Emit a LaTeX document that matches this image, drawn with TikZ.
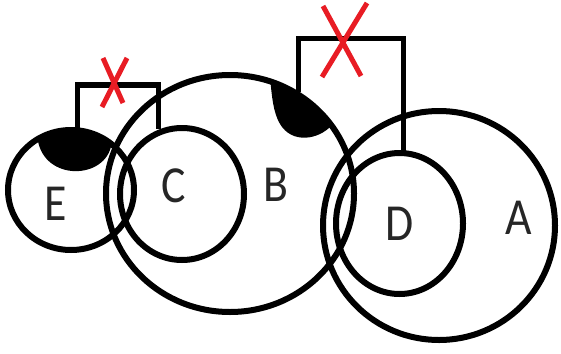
\documentclass[tikz,border=0pt]{standalone}
\usepackage{fontspec}
\setmainfont{Carlito}
\begin{document}
\begin{tikzpicture}[x=1pt,y=-1pt,
  ring/.style={draw=black,line width=6pt},
  link/.style={draw=black,line width=5.5pt},
  cross/.style={draw={rgb,255:red,232;green,28;blue,36},line width=5pt},
  letter/.style={inner sep=0pt,text=black!85,xscale=0.88,font=\fontsize{52}{60}\selectfont}]
\useasboundingbox (0,0) rectangle (561,353);
\fill[white] (0,0) rectangle (561,353);
% centres
\coordinate (cE) at (71,190);
\coordinate (cC) at (182,194);
\coordinate (cB) at (230,193.5);
\coordinate (cD) at (399.5,223.5);
\coordinate (cA) at (439,225.5);
% circles
\draw[ring] (cE) ellipse[x radius=63,y radius=60];
\draw[ring] (cC) ellipse[x radius=62,y radius=66];
\draw[ring] (cB) ellipse[x radius=124,y radius=118.5];
\draw[ring] (cD) ellipse[x radius=63.5,y radius=70.5];
\draw[ring] (cA) ellipse[x radius=116,y radius=114.5];
% blobs
\fill[black] (cE) ++(-122:63 and 60) arc[start angle=-122,end angle=-50,x radius=63,y radius=60]
  .. controls (106,180) and (44,182) .. cycle;
\fill[black] (cB) ++(-71:124 and 118.5) arc[start angle=-71,end angle=-35,x radius=124,y radius=118.5]
  .. controls (318,140) and (292,144) .. (280,124) .. controls (273,112) and (272,96) .. cycle;
% bracket connectors
\coordinate (ecL) at (77.5,132);
\coordinate (ecR) at (158.5,129);
\coordinate (ecT) at (118,85);
\draw[link] (ecL) |- (ecT) -| (ecR);
\coordinate (bdL) at (298.5,92);
\coordinate (bdR) at (403.5,152);
\coordinate (bdT) at (350,38.5);
\draw[link] (bdL) |- (bdT) -| (bdR);
% crosses
\coordinate (x1a) at (127,58); \coordinate (x1b) at (102,107);
\coordinate (x1c) at (103,58); \coordinate (x1d) at (123,103);
\draw[cross] (x1a) -- (x1b);
\draw[cross] (x1c) -- (x1d);
\coordinate (x2a) at (323,6); \coordinate (x2b) at (361,76);
\coordinate (x2c) at (367,3); \coordinate (x2d) at (322,77);
\draw[cross] (x2a) -- (x2b);
\draw[cross] (x2c) -- (x2d);
% labels
\node[letter] (lE) at (55.5,204) {E};
\node[letter] (lC) at (174,186) {C};
\node[letter] (lB) at (275.5,185) {B};
\node[letter] (lD) at (400,223.5) {D};
\node[letter] (lA) at (519,217.5) {A};
\end{tikzpicture}
\end{document}
